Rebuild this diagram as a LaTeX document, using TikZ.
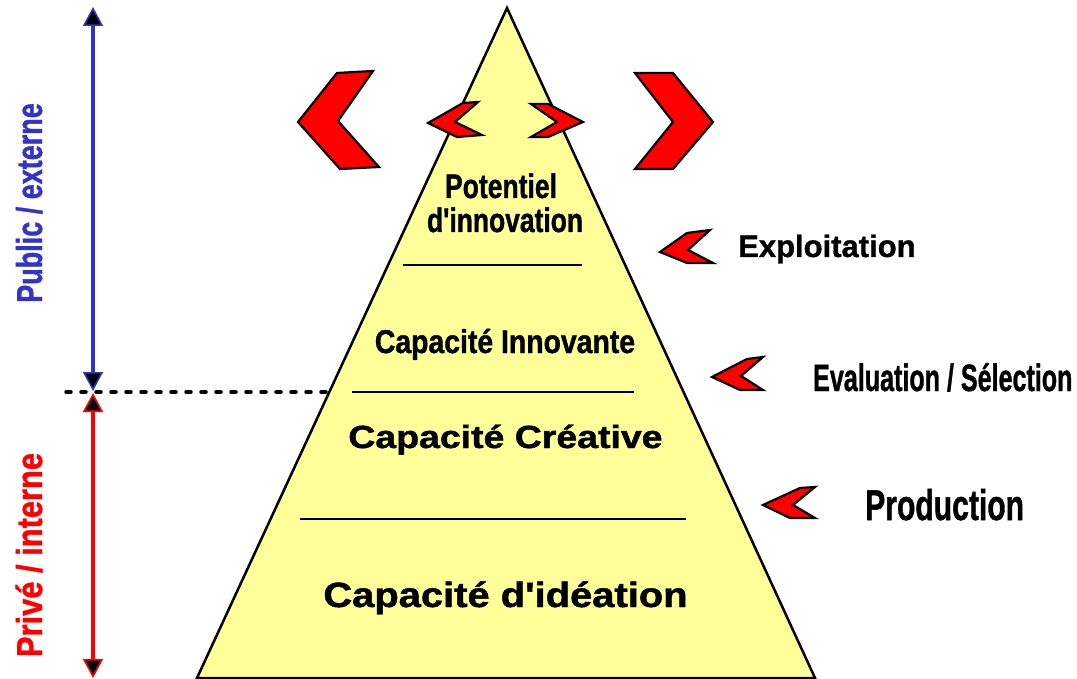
\documentclass[tikz,border=0pt]{standalone}
\usepackage{fontspec}
\usepackage{graphicx}
\newfontfamily\arial{Liberation Sans}[BoldFeatures={FakeBold=1.2}]
\usetikzlibrary{arrows.meta}
\definecolor{pyr}{HTML}{FFFF99}
\definecolor{pblue}{HTML}{3333CC}
\newcommand\tx[3]{\fontsize{#1}{#1}\selectfont\scalebox{#2}[1]{#3}}
\begin{document}
\begin{tikzpicture}[x=1pt,y=-1pt,
  lbl/.style={inner sep=0pt, font=\arial\bfseries},
  chev/.style={fill=red, draw=black, line width=2.2pt, line join=miter},
  sep/.style={line width=2pt},
  bigtip/.tip={Triangle[width=20pt,length=19pt,fill=black,line width=1.6pt]}]
\useasboundingbox (0,0) rectangle (1077,679);

% pyramid
\coordinate (apex) at (507,8);
\coordinate (bl) at (197,678);
\coordinate (br) at (815,678);
\draw[fill=pyr, line width=2.5pt, line join=miter] (apex) -- (br) -- (bl) -- cycle;

% separators
\coordinate (s1a) at (403,265); \coordinate (s1b) at (582,265);
\coordinate (s2a) at (352,392); \coordinate (s2b) at (634,392);
\coordinate (s3a) at (300,519); \coordinate (s3b) at (686,519);
\draw[sep] (s1a) -- (s1b);
\draw[sep] (s2a) -- (s2b);
\draw[sep] (s3a) -- (s3b);

% dashed line
\coordinate (d1) at (66,392);
\coordinate (d2) at (329,392);
\draw[line width=3.5pt, dash pattern=on 5pt off 10pt, line cap=round] (d1) -- (d2);

% arrows
\coordinate (btop) at (93,7);
\coordinate (bbot) at (93,391);
\coordinate (rtop) at (93,393);
\coordinate (rbot) at (93,678);
\draw[pblue, line width=4pt, bigtip-bigtip] (bbot) -- (btop);
\draw[red, line width=4pt, bigtip-bigtip] (rtop) -- (rbot);

% chevrons
\draw[chev] (373,71) -- (337,73) -- (298,122) -- (340,169) -- (379,167) -- (338,121) -- cycle;
\draw[chev] (635,73) -- (673,73) -- (713,122) -- (673,169) -- (635,169) -- (673,122) -- cycle;
\draw[chev] (478,102) -- (463,103) -- (428,123) -- (457,137) -- (482,135) -- (455,122) -- cycle;
\draw[chev] (531,104) -- (548,104) -- (583,122) -- (548,137) -- (531,137) -- (557,122) -- cycle;
\draw[chev] (710,230) -- (687,233) -- (660,252) -- (687,263) -- (713,263) -- (688,250) -- cycle;
\draw[chev] (763,357) -- (747,359) -- (712,377) -- (740,390) -- (763,390) -- (741,376) -- cycle;
\draw[chev] (815,487) -- (800,488) -- (763,505) -- (790,518) -- (815,518) -- (793,505) -- cycle;

% pyramid texts
\node[lbl, anchor=base] (pot) at (501,198) {\tx{34}{0.78}{Potentiel}};
\node[lbl, anchor=base] (inn) at (505,232) {\tx{34}{0.777}{d'innovation}};
\node[lbl, anchor=base] (capi) at (505,353) {\tx{33}{0.86}{Capacité Innovante}};
\node[lbl, anchor=base] (capc) at (505.5,448) {\tx{32}{1.17}{Capacité Créative}};
\node[lbl, anchor=base] (capd) at (505.5,607) {\tx{35}{1.14}{Capacité d'idéation}};

% right labels
\node[lbl, anchor=base west] (expl) at (738,257) {\tx{31}{1.0}{Exploitation}};
\node[lbl, anchor=base west] (eval) at (813,391) {\tx{38}{0.66}{Evaluation / Sélection}};
\node[lbl, anchor=base west] (prod) at (865,520) {\tx{43}{0.70}{Production}};

% left labels
\node[lbl, text=pblue, rotate=90, anchor=base] (pub) at (42,203) {\tx{36}{0.75}{Public / externe}};
\node[lbl, text=red, rotate=90, anchor=base] (priv) at (42,555) {\tx{36}{0.857}{Privé / interne}};
\end{tikzpicture}
\end{document}
